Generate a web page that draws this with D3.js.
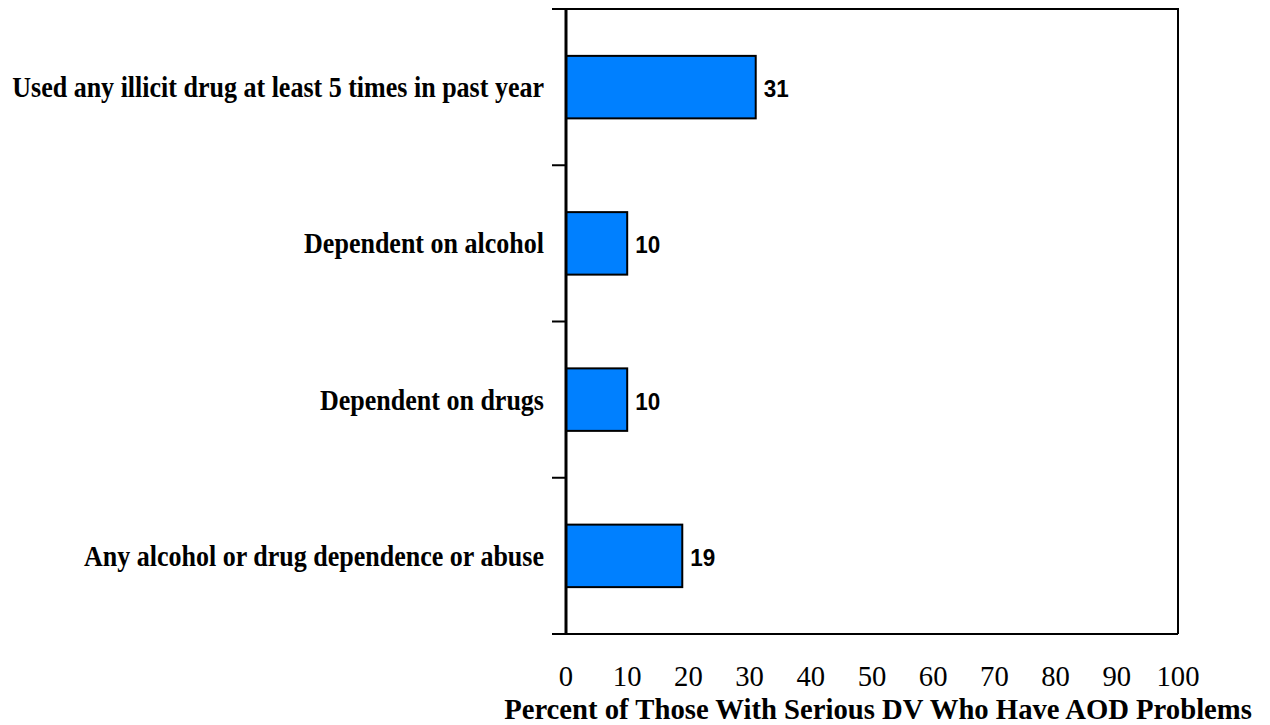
<!DOCTYPE html>
<html>
<head>
<meta charset="utf-8">
<script src="https://cdn.jsdelivr.net/npm/d3@7"></script>
<style>
  body { margin: 0; background: #fff; }
  svg { display: block; }
</style>
</head>
<body>
<div id="chart"></div>
<script>
// Data
const categories = [
  'Used any illicit drug at least 5 times in past year',
  'Dependent on alcohol',
  'Dependent on drugs',
  'Any alcohol or drug dependence or abuse'
]
const values = [31, 10, 10, 19]
const xTicks = [0, 10, 20, 30, 40, 50, 60, 70, 80, 90, 100]
const xTitle = 'Percent of Those With Serious DV Who Have AOD Problems'

const width = 1270
const height = 725
const margin = { top: 9, right: 92, bottom: 91, left: 566 }
const serif = 'Liberation Serif, Times New Roman, serif'
const sans = 'Liberation Sans, Arial, sans-serif'

const svg = d3.select('#chart')
  .append('svg')
  .attr('width', width)
  .attr('height', height)

const x = d3.scaleLinear()
  .domain([0, 100])
  .range([margin.left, width - margin.right])

const y = d3.scaleBand()
  .domain(categories)
  .range([margin.top, height - margin.bottom])
  .paddingInner(0.6)
  .paddingOuter(0.3)

// size a group of texts so that one of them gets the wanted width
function fitSize(sel, refNode, target) {
  sel.attr('font-size', 20)
  const w = refNode.getComputedTextLength()
  sel.attr('font-size', 20 * target / w)
}
// the original text is a little taller than it is wide
function place(sel, fx, fy, sy) {
  sel.attr('transform', (d, i) => `translate(${fx(d, i)},${fy(d, i)}) scale(1,${sy})`)
}

// frame (top and right)
svg.append('path')
  .attr('d', `M${x(0)},${margin.top}H${x(100)}V${height - margin.bottom}`)
  .attr('fill', 'none')
  .attr('stroke', '#000')
  .attr('stroke-width', 2)

// bars
svg.selectAll('rect.bar')
  .data(values)
  .join('rect')
  .attr('class', 'bar')
  .attr('x', x(0))
  .attr('y', (d, i) => y(categories[i]))
  .attr('width', d => x(d) - x(0))
  .attr('height', y.bandwidth())
  .attr('fill', '#0080ff')
  .attr('stroke', '#000')
  .attr('stroke-width', 2)

// value labels
const vals = svg.selectAll('text.val')
  .data(values)
  .join('text')
  .attr('class', 'val')
  .attr('font-family', sans)
  .attr('font-weight', 'bold')
  .text(d => d)
fitSize(vals, vals.nodes()[0], 25)
place(vals, d => x(d) + 8, (d, i) => y(categories[i]) + y.bandwidth() / 2 + 10, 1.1)

// bottom axis line
svg.append('line')
  .attr('x1', x(0) - 14).attr('x2', x(100))
  .attr('y1', height - margin.bottom).attr('y2', height - margin.bottom)
  .attr('stroke', '#000').attr('stroke-width', 2)

// left axis with category boundary ticks
const yEdges = d3.range(categories.length + 1).map(i => margin.top + i * y.step())
svg.append('line')
  .attr('x1', x(0)).attr('x2', x(0))
  .attr('y1', margin.top).attr('y2', height - margin.bottom)
  .attr('stroke', '#000').attr('stroke-width', 3)
svg.selectAll('line.ytick')
  .data(yEdges)
  .join('line')
  .attr('class', 'ytick')
  .attr('x1', x(0) - 14).attr('x2', x(0))
  .attr('y1', d => d).attr('y2', d => d)
  .attr('stroke', '#000').attr('stroke-width', 2)

// category labels
const cats = svg.selectAll('text.cat')
  .data(categories)
  .join('text')
  .attr('class', 'cat')
  .attr('text-anchor', 'end')
  .attr('font-family', serif)
  .attr('font-weight', 'bold')
  .text(d => d)
fitSize(cats, cats.nodes()[0], 532)
place(cats, () => 544, d => y(d) + y.bandwidth() / 2 + 10, 1.1)

// x tick labels
const xt = svg.selectAll('text.xt')
  .data(xTicks)
  .join('text')
  .attr('class', 'xt')
  .attr('text-anchor', 'middle')
  .attr('font-family', serif)
  .text(d => d)
fitSize(xt, xt.nodes()[xTicks.length - 1], 43)
place(xt, d => x(d), () => 686, 1)

// x title, centred under the plot area
const title = svg.append('text')
  .attr('text-anchor', 'middle')
  .attr('font-family', serif)
  .attr('font-weight', 'bold')
  .text(xTitle)
fitSize(title, title.node(), 748)
place(title, () => 878, () => 719, 1)
</script>
</body>
</html>
